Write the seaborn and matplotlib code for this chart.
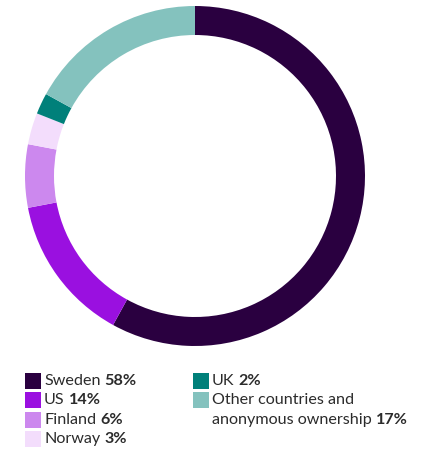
import matplotlib
matplotlib.use("Agg")
import matplotlib.pyplot as plt
import seaborn as sns
from matplotlib.patches import Rectangle

sns.set_theme(style="white")
plt.rcParams['font.family'] = ['Lato', 'DejaVu Sans']

categories = ["Sweden", "US", "Finland", "Norway", "UK", "Other countries and\nanonymous ownership"]
values = [58, 14, 6, 3, 2, 17]
value_labels = ["58%", "14%", "6%", "3%", "2%", "17%"]
colors = ["#2a0040", "#9a10e0", "#cc88ee", "#f3ddfc", "#00807a", "#84c2be"]

W, H = 425, 451
fig = plt.figure(figsize=(W / 100, H / 100), dpi=100)
fig.patch.set_facecolor("white")

cx, cy, R = 195, 176, 170
ax = fig.add_axes([(cx - R) / W, (H - cy - R) / H, 2 * R / W, 2 * R / H])
ax.pie(values, colors=colors, startangle=90, counterclock=False, radius=1,
       wedgeprops=dict(width=29 / R, linewidth=0))
ax.set_aspect("equal")
ax.set_xlim(-1, 1)
ax.set_ylim(-1, 1)
ax.axis("off")

# legend
positions = [(25, 381), (25, 400), (25, 420), (25, 439), (193, 381), (193, 400)]
fs = 11.6
renderer = fig.canvas.get_renderer()
for (x, y), cat, val, col in zip(positions, categories, value_labels, colors):
    fig.patches.append(Rectangle((x / W, (H - y - 8) / H), 16 / W, 16 / H,
                                 transform=fig.transFigure, facecolor=col, edgecolor="none"))
    lines = cat.split("\n")
    tx = x + 19
    for i, line in enumerate(lines):
        ly = y + i * 20
        t = fig.text(tx / W, (H - ly) / H, line, fontsize=fs, color="#2b2b2b",
                     va="center", ha="left")
        if i == len(lines) - 1:
            bb = t.get_window_extent(renderer=renderer)
            fig.text((bb.x1 + 4) / W, (H - ly) / H, val, fontsize=fs, color="#2b2b2b",
                     fontweight="bold", va="center", ha="left")

fig.savefig("out.png", dpi=100, facecolor="white")
